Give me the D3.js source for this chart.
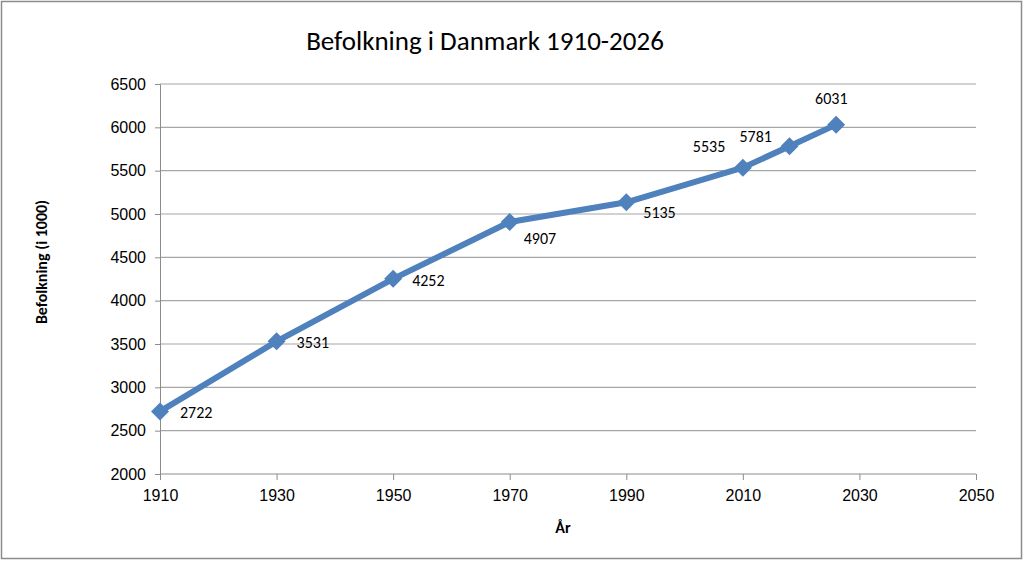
<!DOCTYPE html>
<html>
<head>
<meta charset="utf-8">
<script src="https://cdn.jsdelivr.net/npm/d3@7"></script>
<style>
  html, body { margin: 0; padding: 0; background: #fff; }
  svg { display: block; font-family: Carlito, Lato, "Open Sans", sans-serif; }
</style>
</head>
<body>
<svg width="1024" height="561"></svg>
<script>
// Population data
var years = [1910, 1930, 1950, 1970, 1990, 2010, 2018, 2026];
var population = [2722, 3531, 4252, 4907, 5135, 5535, 5781, 6031];

var xTicks = [1910, 1930, 1950, 1970, 1990, 2010, 2030, 2050];
var yTicks = [2000, 2500, 3000, 3500, 4000, 4500, 5000, 5500, 6000, 6500];

// where each value label sits relative to its point
var labelOffsets = [[20, 7], [20, 7], [19, 7], [14, 22], [17, 16], [-50, -16], [-50, -4], [-21, -21]];

var lineColor = "#4f81bd";
var gridColor = "#a6a6a6";

var svg = d3.select("svg"),
    margin = {top: 84, right: 48, bottom: 87, left: 160},
    width = +svg.attr("width") - margin.left - margin.right,
    height = +svg.attr("height") - margin.top - margin.bottom;

// outer frame
svg.append("rect")
    .attr("x", 1.5).attr("y", 1.5)
    .attr("width", 1020).attr("height", 557)
    .attr("fill", "#fff")
    .attr("stroke", "#8c8c8c")
    .attr("stroke-width", 1.5);

var g = svg.append("g").attr("transform", "translate(" + margin.left + "," + margin.top + ")");

var x = d3.scaleLinear().domain([1910, 2050]).range([0, width]);
var y = d3.scaleLinear().domain([2000, 6500]).range([height, 0]);

// horizontal grid
g.append("g")
    .selectAll("line")
    .data(yTicks.slice(1))
    .enter()
    .append("line")
      .attr("x1", 0)
      .attr("x2", width)
      .attr("y1", function(d) { return y(d); })
      .attr("y2", function(d) { return y(d); })
      .attr("stroke", gridColor)
      .attr("stroke-width", 1.2);

// y axis
var yAxis = g.append("g")
    .call(d3.axisLeft(y).tickValues(yTicks).tickSize(5).tickPadding(9).tickFormat(d3.format("d")));
yAxis.selectAll("text").attr("font-size", 16).attr("fill", "#000");
yAxis.selectAll("line,path").attr("stroke", "#8c8c8c");

// x axis
var xAxis = g.append("g")
    .attr("transform", "translate(0," + height + ")")
    .call(d3.axisBottom(x).tickValues(xTicks).tickSize(6).tickPadding(10).tickFormat(d3.format("d")));
xAxis.selectAll("text").attr("font-size", 16).attr("fill", "#000");
xAxis.selectAll("line,path").attr("stroke", "#8c8c8c");
xAxis.select(".domain").attr("d", "M0,0H" + width);

var data = years.map(function(d, i) { return {year: d, val: population[i]}; });

var line = d3.line()
    .x(function(d) { return x(d.year); })
    .y(function(d) { return y(d.val); });

g.append("path")
    .datum(data)
    .attr("d", line)
    .attr("fill", "none")
    .attr("stroke", lineColor)
    .attr("stroke-width", 6)
    .attr("stroke-linejoin", "round");

// diamond markers
g.selectAll("path.marker")
    .data(data)
    .enter()
    .append("path")
      .attr("class", "marker")
      .attr("transform", function(d) { return "translate(" + x(d.year) + "," + y(d.val) + ")"; })
      .attr("d", "M0,-9L9,0L0,9L-9,0Z")
      .attr("fill", lineColor);

// value labels
g.selectAll("text.val")
    .data(data)
    .enter()
    .append("text")
      .attr("class", "val")
      .attr("x", function(d, i) { return x(d.year) + labelOffsets[i][0]; })
      .attr("y", function(d, i) { return y(d.val) + labelOffsets[i][1]; })
      .attr("font-size", 16)
      .attr("fill", "#000")
      .text(function(d) { return d.val; });

// title
svg.append("text")
    .attr("x", 485)
    .attr("y", 50)
    .attr("text-anchor", "middle")
    .attr("font-size", 27)
    .text("Befolkning i Danmark 1910-2026");

// axis titles
svg.append("text")
    .attr("transform", "translate(47,262) rotate(-90)")
    .attr("text-anchor", "middle")
    .attr("font-size", 16)
    .attr("font-weight", "bold")
    .text("Befolkning (i 1000)");

svg.append("text")
    .attr("x", 563)
    .attr("y", 533)
    .attr("text-anchor", "middle")
    .attr("font-size", 16)
    .attr("font-weight", "bold")
    .text("År");
</script>
</body>
</html>
